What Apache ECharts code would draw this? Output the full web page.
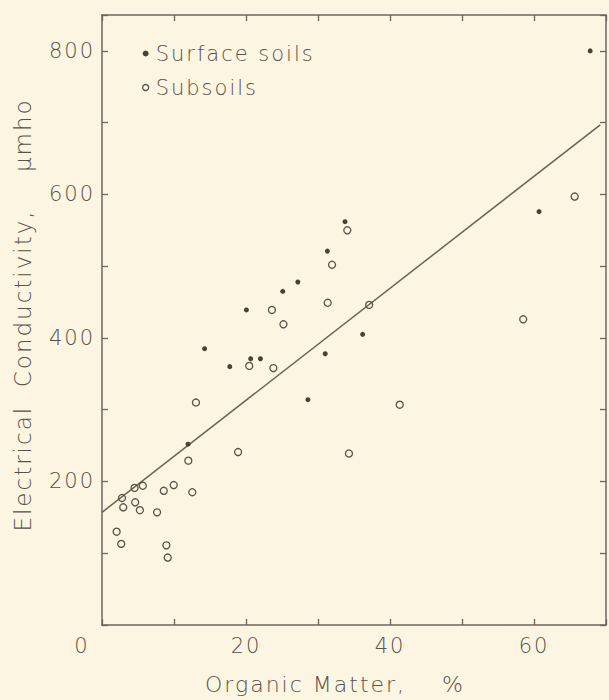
<!DOCTYPE html>
<html>
<head>
<meta charset="utf-8">
<script src="https://cdn.jsdelivr.net/npm/echarts@6/dist/echarts.min.js"></script>
<style>
  html, body { margin: 0; padding: 0; background: #fcf5e1; }
  #chart { width: 609px; height: 700px; }
  /* open, evenly tracked lettering for every label */
  #chart svg text { letter-spacing: 2px; }
</style>
</head>
<body>
<div id="chart"></div>
<script>
// Organic matter (%) vs. electrical conductivity (µmho)
const surfaceSoils = [
  [11.95, 252], [14.25, 385], [17.75, 360], [20.06, 439], [20.65, 371],
  [22.0, 371], [25.1, 465], [27.2, 478], [28.6, 314], [31.0, 378],
  [31.3, 521], [33.75, 562], [36.2, 405], [60.7, 576], [67.8, 800]
];
const subsoils = [
  [2.03, 130], [2.67, 113], [2.77, 177], [2.95, 164], [4.52, 191],
  [4.61, 171], [5.26, 160], [5.67, 194], [7.65, 157], [8.58, 187],
  [8.94, 111], [9.13, 94], [9.96, 195], [11.99, 229], [12.54, 185],
  [13.05, 310], [18.9, 241], [20.45, 361], [23.6, 439], [23.8, 358],
  [25.2, 419], [31.35, 449], [31.95, 502], [34.07, 550], [34.3, 239],
  [37.1, 446], [41.35, 307], [58.5, 426], [65.65, 597]
];
// Fitted regression line end points
const fitLine = [[0, 157], [69.2, 697]];

const xLabels = [0, 20, 40, 60];
const yLabels = [200, 400, 600, 800];

const ink = '#5a5148';
const axisInk = '#6e665c';
const font = 'DejaVu Sans';

const chart = echarts.init(document.getElementById('chart'), null, { renderer: 'svg' });

const frameAxis = {
  axisLine: { show: true, onZero: false, lineStyle: { color: axisInk, width: 1.5 } },
  axisTick: { show: true, inside: true, length: 6, lineStyle: { color: axisInk, width: 1.3 } },
  splitLine: { show: false }
};

chart.setOption({
  backgroundColor: '#fcf5e1',
  animation: false,
  grid: { left: 102, top: 15, right: 1, bottom: 65 },
  legend: {
    orient: 'vertical',
    left: 137,
    top: 38,
    itemGap: 13,
    itemWidth: 6,
    itemHeight: 6,
    textStyle: { color: ink, fontFamily: font, fontSize: 21, fontWeight: 300, padding: [0, 0, 0, 2] },
    data: [
      { name: 'Surface soils', icon: 'circle', itemStyle: { color: '#4a4036', borderWidth: 0 } },
      { name: 'Subsoils', icon: 'circle', itemStyle: { color: '#fcf5e1', borderColor: '#5a5148', borderWidth: 1.3 } }
    ]
  },
  xAxis: [
    Object.assign({
      type: 'value', position: 'bottom', min: 0, max: 70, interval: 10,
      name: 'Organic Matter,    %',
      nameLocation: 'middle', nameGap: 48,
      nameTextStyle: { color: ink, fontFamily: font, fontSize: 22, fontWeight: 300, padding: [0, 38, 0, 0] },
      axisLabel: {
        color: ink, fontFamily: font, fontSize: 21, fontWeight: 300, margin: 10,
        formatter: v => v === 0 ? '{o|0}' : (xLabels.includes(v) ? String(v) : ''),
        rich: { o: { color: ink, fontFamily: font, fontSize: 21, fontWeight: 300, padding: [0, 40, 0, 0] } }
      }
    }, frameAxis),
    Object.assign({
      type: 'value', position: 'top', min: 0, max: 70, interval: 10,
      axisLabel: { show: false }
    }, frameAxis)
  ],
  yAxis: [
    Object.assign({
      type: 'value', position: 'left', min: 0, max: 850, interval: 100,
      name: 'Electrical  Conductivity,    \u03bcmho',
      nameLocation: 'middle', nameGap: 68,
      nameTextStyle: { color: ink, fontFamily: font, fontSize: 23, fontWeight: 300, padding: [0, 0, 0, 10] },
      axisLabel: {
        color: ink, fontFamily: font, fontSize: 21, fontWeight: 300, margin: 7,
        formatter: v => yLabels.includes(v) ? String(v) : ''
      }
    }, frameAxis),
    Object.assign({
      type: 'value', position: 'right', min: 0, max: 850, interval: 100,
      axisLabel: { show: false }
    }, frameAxis)
  ],
  series: [
    {
      name: 'fit', type: 'line', data: fitLine, symbol: 'none',
      lineStyle: { color: '#6a6258', width: 1.5 }, silent: true, z: 1
    },
    {
      name: 'Surface soils', type: 'scatter', data: surfaceSoils,
      symbol: 'circle', symbolSize: 5,
      itemStyle: { color: '#4a4036', opacity: 1 }, z: 3
    },
    {
      name: 'Subsoils', type: 'scatter', data: subsoils,
      symbol: 'circle', symbolSize: 7,
      itemStyle: { color: 'rgba(0,0,0,0)', borderColor: '#5a5148', borderWidth: 1.3, opacity: 1 }, z: 2
    }
  ]
});
</script>
</body>
</html>
